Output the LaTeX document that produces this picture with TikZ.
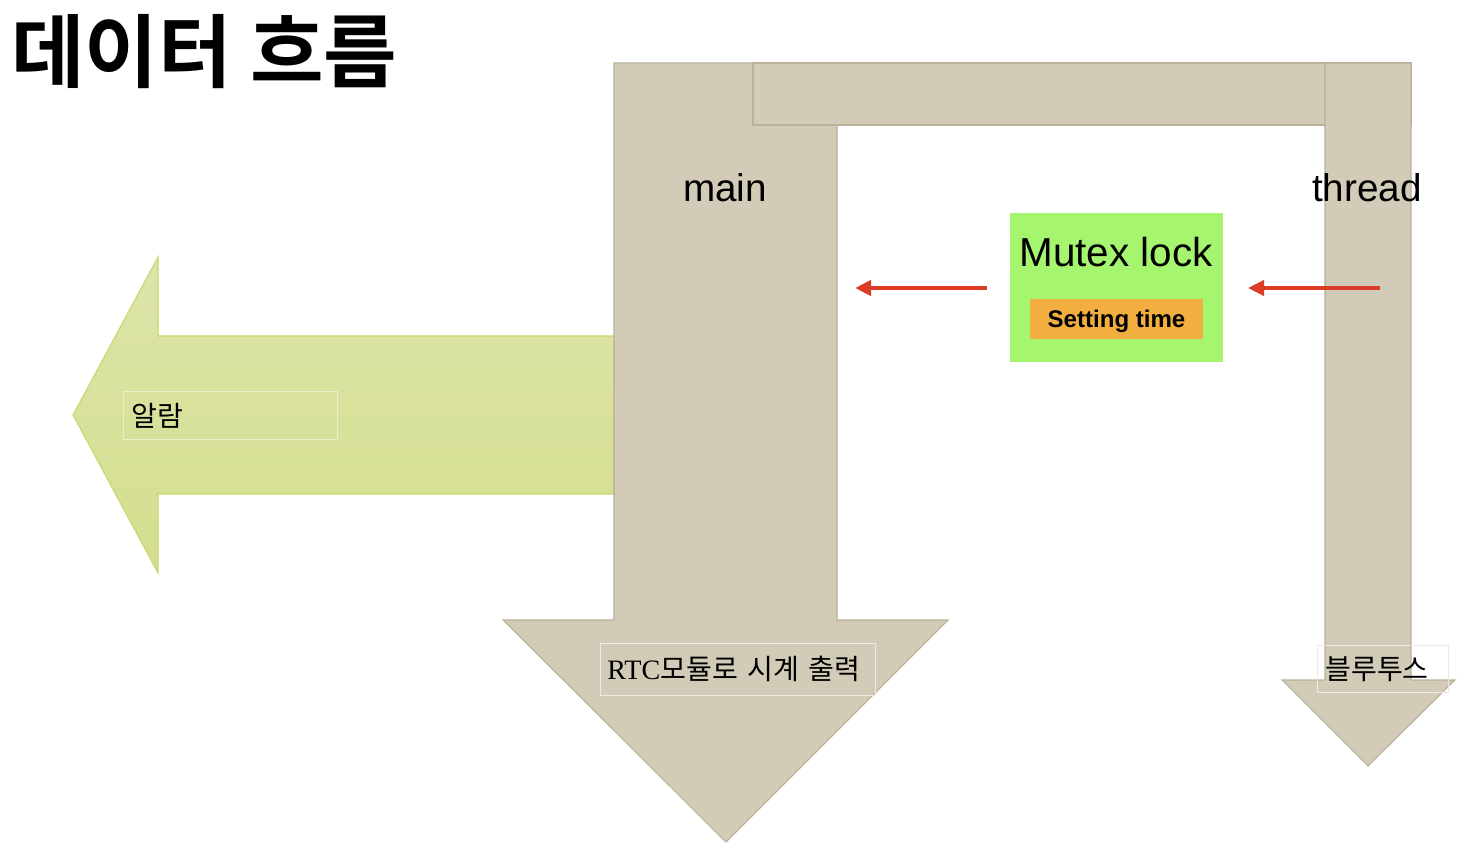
\documentclass[tikz,border=0pt]{standalone}
\usepackage{fontspec}
\setmainfont{Liberation Sans}
\newfontfamily\cjk{Noto Sans CJK KR}[BoldFont=* Bold]
\newfontfamily\rmlat{Liberation Serif}
\usetikzlibrary{arrows.meta}

\definecolor{beige}{HTML}{D2CBB8}
\definecolor{beigeline}{HTML}{B9B198}
\definecolor{alarmtop}{HTML}{DDE4AA}
\definecolor{alarmbot}{HTML}{D4DE8D}
\definecolor{alarmline}{HTML}{C9D66E}
\definecolor{mutexgreen}{HTML}{A6F56E}
\definecolor{setorange}{HTML}{F2AF3F}
\definecolor{flowred}{HTML}{DC3B26}

\tikzset{
  flowshape/.style={fill=beige, draw=beigeline, line width=0.6pt},
  labelbox/.style={draw=#1, line width=0.4pt, inner sep=0pt, anchor=north west,
    font=\cjk\fontsize{16}{19}\selectfont, align=left},
  redarrow/.style={draw=flowred, line width=2.5pt,
    -{Triangle[length=0.32cm, width=0.30cm]}},
}

\begin{document}
\begin{tikzpicture}[x=0.02cm, y=-0.02cm]
  \useasboundingbox (0,0) rectangle (1470,862);
  \node[anchor=west, inner sep=0pt, font=\cjk\bfseries\fontsize{45.5}{52}\selectfont] (title) at (11,52) {데이터 흐름};

  % alarm arrow
  \shade[top color=alarmtop, bottom color=alarmbot, draw=alarmline, line width=0.6pt]
    (614,336) -- (158,336) -- (158,257) -- (73,415) -- (158,573) -- (158,494) -- (614,494) -- cycle;

  % main, bar, thread
  \draw[flowshape] (614,63) -- (614,620) -- (503,620) -- (726,842) -- (948,620) -- (837,620) -- (837,63) -- cycle;
  \draw[flowshape] (753,63) rectangle (1411,125);
  \draw[flowshape] (1325,63) -- (1325,680) -- (1282,680) -- (1368,766) -- (1455,680) -- (1411,680) -- (1411,63) -- cycle;

  \node[font=\fontsize{22}{26}\selectfont] (main) at (725,188) {main};
  \node[font=\fontsize{22}{26}\selectfont] (thread) at (1367,188) {thread};

  \node[fill=mutexgreen, minimum width=4.26cm, minimum height=2.98cm, inner sep=0pt] (mutex) at (1116.5,287.5) {};
  \node[font=\fontsize{23}{27}\selectfont] (mutextext) at (1116,252) {Mutex lock};
  \node[fill=setorange, minimum width=3.46cm, minimum height=0.8cm, inner sep=0pt,
    font=\bfseries\fontsize{13.7}{16}\selectfont] (settime) at (1116.5,319) {\raisebox{-5pt}[0pt][0pt]{Setting time}};

  \coordinate (mainR) at (855,288);
  \coordinate (threadL) at (1248,288);
  \coordinate (threadC) at (1380,288);
  \draw[redarrow] ([xshift=-0.46cm]mutex.west |- mainR) -- (mainR);
  \draw[redarrow] (threadC) -- (threadL);

  \node[labelbox=alarmtop!60!white, text width=3.96cm, minimum height=0.96cm, inner xsep=0.16cm] (alarm) at (123,391) {알람};
  \node[labelbox=beige!40!white, text width=5.22cm, minimum height=1.04cm, inner xsep=0.14cm] (rtc) at (600,643) {{\rmlat RTC}모듈로 시계 출력};
  \node[labelbox=beige!40!white, text width=2.30cm, minimum height=0.94cm, inner xsep=0.16cm] (bt) at (1317,645) {블루투스};
\end{tikzpicture}
\end{document}
